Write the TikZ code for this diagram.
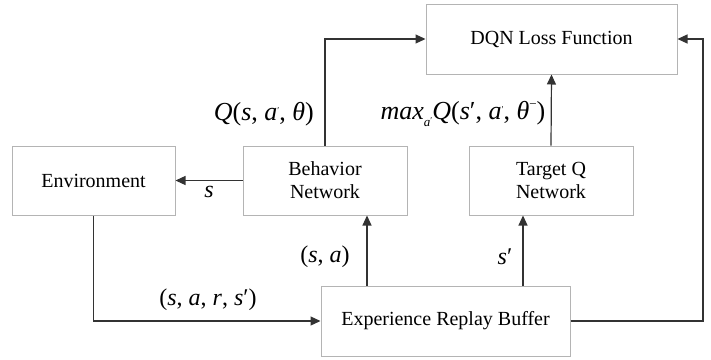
\documentclass[tikz,border=0pt]{standalone}
\usepackage{fontspec}
\setmainfont{Liberation Serif}
\usetikzlibrary{arrows.meta}
\definecolor{boxgray}{HTML}{B4B4B4}
\definecolor{linegray}{HTML}{333333}
\newcommand{\tinyprime}{\raisebox{0.55ex}{\fontsize{9}{9}\selectfont ′}}
\begin{document}
\begin{tikzpicture}[x=1pt,y=-1pt,
  box/.style={draw=boxgray, line width=1pt, inner sep=0pt, align=center,
    font=\fontsize{20}{23}\selectfont},
  link/.style={draw=linegray, line width=1.2pt,
    -{Triangle[length=10pt,width=9pt]}},
  lbl/.style={inner sep=0pt, font=\fontsize{24}{26}\selectfont},
  qlbl/.style={inner sep=0pt, font=\fontsize{26}{28}\selectfont}]
\useasboundingbox (0,0) rectangle (711,359);

% blocks
\node[box, minimum width=251pt, minimum height=70pt] (loss) at (551.5,39) {DQN Loss Function};
\node[box, minimum width=163pt, minimum height=69pt] (env) at (93.5,180.5) {Environment};
\node[box, minimum width=164pt, minimum height=69pt] (beh) at (325,180.5) {Behavior\\Network};
\node[box, minimum width=164pt, minimum height=69pt] (tgt) at (551,180.5) {Target Q\\Network};
\node[box, minimum width=249pt, minimum height=70pt] (erb) at (445.5,321) {Experience Replay Buffer};

% routing columns
\coordinate (sa) at (367,0);
\coordinate (sp) at (523,0);
\coordinate (rc) at (703,0);

% connectors
\draw[link] (beh.north) |- (loss.west);
\draw[link] (tgt.north) -- (loss.south);
\draw[link] (beh.west) -- (env.east);
\draw[link] (env.south) |- (erb.west);
\draw[link] (erb.north -| sa) -- (beh.south -| sa);
\draw[link] (erb.north -| sp) -- (tgt.south -| sp);
\draw[link] (erb.east) -| (rc |- loss.east) -- (loss.east);

% labels
\node[qlbl, anchor=east] (lq) at (314,114) {\textit{Q}(\textit{s}, \textit{a}\tinyprime, \textit{θ})};
\node[qlbl] (lmax) at (463,114) {\textit{max}\raisebox{-0.6ex}{\fontsize{13}{13}\selectfont\textit{a}\tinyprime}\textit{Q}(\textit{s}′, \textit{a}\tinyprime, \textit{θ}\raisebox{0.9ex}{\fontsize{13}{13}\selectfont −})};
\node[lbl] (ls) at (209,192) {\textit{s}};
\node[lbl] (lsa) at (325,257) {(\textit{s}, \textit{a})};
\node[lbl] (lsp) at (505,257) {\textit{s}′};
\node[lbl] (lsars) at (208,300) {(\textit{s}, \textit{a}, \textit{r}, \textit{s}′)};
\end{tikzpicture}
\end{document}
